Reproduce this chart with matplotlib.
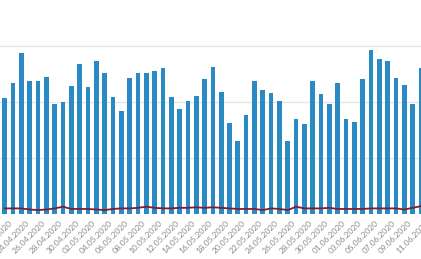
import datetime as dt
import matplotlib
matplotlib.use("Agg")
import matplotlib.pyplot as plt
from matplotlib.transforms import ScaledTranslation

# data (arbitrary units, gridline step = 100)
start = dt.date(2020, 4, 22)
dates = [start + dt.timedelta(days=i) for i in range(51)]
labels = [d.strftime("%d.%m.%Y") for d in dates]

bars = [207, 233, 287, 238, 238, 245, 196, 200, 228, 268,
        226, 273, 251, 208, 183, 242, 252, 251, 256, 260,
        208, 187, 201, 211, 241, 263, 217, 163, 131, 177,
        238, 221, 216, 202, 131, 170, 160, 238, 214, 197,
        233, 170, 165, 241, 292, 276, 273, 242, 231, 197,
        261]

line = [10, 10, 10, 8, 7, 8, 10, 13, 9, 9,
        9, 8, 7, 9, 10, 10, 11, 13, 11, 10,
        10, 11, 11, 12, 11, 12, 11, 10, 9, 9,
        9, 7, 10, 9, 7, 13, 10, 10, 10, 11,
        9, 9, 9, 9, 10, 10, 10, 10, 8, 11,
        14]

x = list(range(len(bars)))

fig = plt.figure(figsize=(4.21, 2.59), dpi=100)
ax = fig.add_axes([0, 45 / 259, 1, 214 / 259])

ax.bar(x, bars, width=0.56, color="#2a8bc4", zorder=2)
ax.plot(x, line, color="#7d1d33", linewidth=1.3, zorder=3)

ax.set_xlim(-0.565, 50.0)
ax.set_ylim(0, 382)
ax.set_yticks([100, 200, 300])
ax.yaxis.grid(True, color="#e6e6e6", linewidth=1, zorder=0)
ax.tick_params(axis="y", left=False, labelleft=False)

ax.set_xticks(x[::2])
ax.set_xticklabels(labels[::2], rotation=45, ha="right", rotation_mode="anchor",
                   fontsize=6, color="#8a8a8a", family=["Lato", "DejaVu Sans"])
ax.tick_params(axis="x", length=0, pad=4)
# nudge labels a little to the right of their ticks
shift = ScaledTranslation(4 / 100, 0, fig.dpi_scale_trans)
for t in ax.get_xticklabels():
    t.set_transform(t.get_transform() + shift)

for s in ax.spines.values():
    s.set_visible(False)

fig.savefig("out.png", dpi=100)
